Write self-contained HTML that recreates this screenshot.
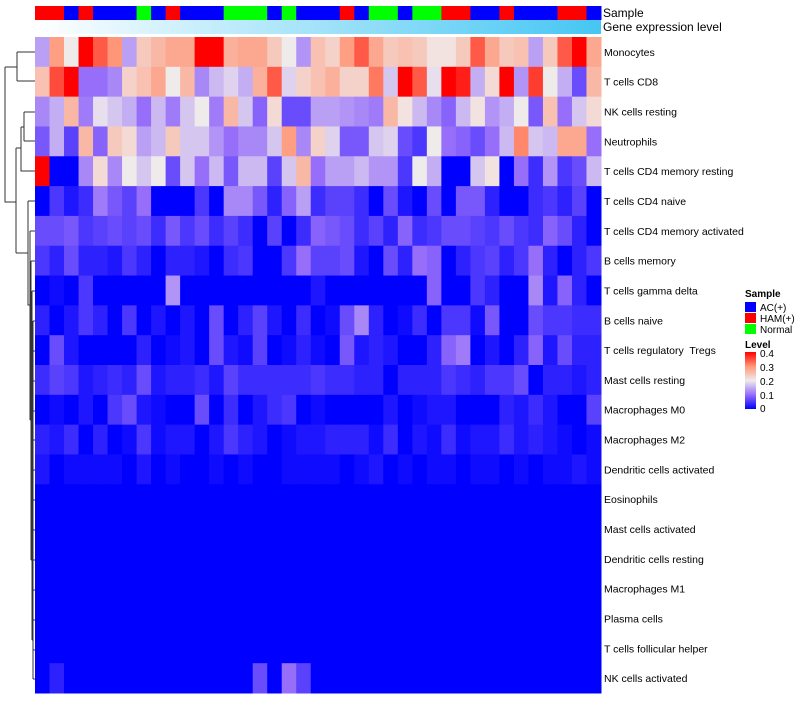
<!DOCTYPE html>
<html><head><meta charset="utf-8"><style>
body{margin:0;background:#fff;width:800px;height:700px;overflow:hidden;font-family:"Liberation Sans",sans-serif}
svg text{font-family:"Liberation Sans",sans-serif}
#rowlabels text{white-space:pre}
</style></head><body>
<svg id="chart" width="800" height="700" xmlns="http://www.w3.org/2000/svg">
<defs><linearGradient id="gexp" x1="0" x2="1"><stop offset="0" stop-color="#ffffff"/><stop offset="1" stop-color="#45c6f4"/></linearGradient>
<linearGradient id="lvl" x1="0" y1="1" x2="0" y2="0"><stop offset="0" stop-color="#0000ff"/><stop offset="0.25" stop-color="#966efa"/><stop offset="0.5" stop-color="#f0ebeb"/><stop offset="0.75" stop-color="#ff9678"/><stop offset="1" stop-color="#ff0000"/></linearGradient></defs>
<g id="anno"></g>
<rect x="35" y="20" width="566" height="14" fill="url(#gexp)"/>
<text x="603" y="17" font-size="12">Sample</text>
<text x="603" y="31" font-size="12">Gene expression level</text>
<g id="cells"></g>
<g id="rowlabels"></g>
<g id="dendro" stroke="#333" stroke-width="1" fill="none">
<path d="M17,52V81M17,52H35M17,81H35M5,67H17M5,67V202H16M16,148V253M24,112V141M24,112H35M24,141H35M21,127H24M21,127V171H35M16,148H21M16,253H28M28,201H35M28,201V305H30M30,231V420M30,231H35M30,420H31M31,261V560M31,261H35M31,560H32M32,291V640M32,291H35M32,640H33M33,321V679M33,321H35M33,351H35M33,381H35M33,411H35M33,440H35M33,470H35M33,500H35M33,530H35M33,560H35M33,590H35M33,620H35M33,650H35M33,679H35"/>
</g>
<g>
<text x="745" y="297" font-size="10" font-weight="bold">Sample</text>
<rect x="745" y="302" width="11" height="10" fill="#0000ff"/>
<text x="760" y="311" font-size="10">AC(+)</text>
<rect x="745" y="313" width="11" height="10" fill="#ff0000"/>
<text x="760" y="322" font-size="10">HAM(+)</text>
<rect x="745" y="324" width="11" height="10" fill="#00ff00"/>
<text x="760" y="333" font-size="10">Normal</text>
<text x="745" y="348" font-size="10" font-weight="bold">Level</text>
<rect x="745" y="352" width="11" height="57" fill="url(#lvl)"/>
<g font-size="10">
<text x="760" y="357">0.4</text>
<text x="760" y="371">0.3</text>
<text x="760" y="385">0.2</text>
<text x="760" y="399">0.1</text>
<text x="760" y="412">0</text>
</g>
</g>
</svg>
<script>
const rowNames=["Monocytes","T cells CD8","NK cells resting","Neutrophils","T cells CD4 memory resting","T cells CD4 naive","T cells CD4 memory activated","B cells memory","T cells gamma delta","B cells naive","T cells regulatory  Tregs","Mast cells resting","Macrophages M0","Macrophages M2","Dendritic cells activated","Eosinophils","Mast cells activated","Dendritic cells resting","Macrophages M1","Plasma cells","T cells follicular helper","NK cells activated"];
const sampleGroups="RRBRBBBGBRBBBGGGBGBBBRBGGBGGRRBBRBBBRRB".split("");
const r0=[0.14,0.29,0.2,0.4,0.34,0.3,0.14,0.24,0.26,0.28,0.28,0.4,0.4,0.27,0.28,0.28,0.24,0.2,0.13,0.25,0.23,0.29,0.34,0.28,0.24,0.25,0.24,0.21,0.21,0.24,0.34,0.28,0.24,0.25,0.14,0.24,0.34,0.4,0.28];
const r1=[0.25,0.35,0.4,0.1,0.1,0.12,0.23,0.25,0.28,0.2,0.26,0.12,0.16,0.18,0.15,0.27,0.34,0.18,0.23,0.25,0.27,0.23,0.23,0.32,0.17,0.4,0.34,0.19,0.4,0.38,0.15,0.22,0.4,0.13,0.36,0.2,0.15,0.07,0.26];
const r2=[0.12,0.15,0.26,0.11,0.19,0.17,0.15,0.1,0.16,0.11,0.17,0.2,0.11,0.26,0.17,0.09,0.22,0.07,0.07,0.14,0.14,0.13,0.12,0.11,0.26,0.21,0.16,0.12,0.09,0.16,0.21,0.13,0.15,0.2,0.08,0.25,0.1,0.17,0.22];
const r3=[0.08,0.15,0.06,0.26,0.09,0.24,0.22,0.14,0.16,0.24,0.17,0.17,0.13,0.1,0.12,0.12,0.17,0.29,0.12,0.23,0.18,0.08,0.08,0.17,0.18,0.07,0.05,0.2,0.1,0.09,0.07,0.1,0.16,0.31,0.17,0.16,0.28,0.28,0.1];
const r4=[0.4,0,0,0.12,0.22,0.12,0.2,0.17,0.2,0.07,0.17,0.1,0.16,0.08,0.16,0.16,0.06,0.17,0.26,0.1,0.14,0.14,0.16,0.13,0.13,0.05,0.2,0.15,0,0,0.17,0.21,0,0.1,0.04,0.13,0.05,0.07,0.16];
const r5=[0,0.05,0.02,0.04,0.11,0.08,0.06,0.1,0,0,0,0.05,0,0.12,0.12,0.08,0.03,0.09,0.14,0.04,0.06,0.06,0.04,0,0.07,0.02,0,0.07,0,0.08,0.08,0.03,0,0,0.04,0.05,0.03,0.06,0];
const r6=[0.07,0.07,0.08,0.05,0.06,0.07,0.06,0.07,0.04,0.08,0.05,0.07,0.04,0.06,0.04,0,0.06,0,0.04,0.09,0.08,0.07,0.04,0.06,0.03,0.09,0.04,0.05,0.07,0.07,0.06,0.05,0.07,0.05,0.04,0.09,0.07,0.03,0];
const r7=[0.05,0.03,0.07,0.03,0.03,0.02,0.05,0.03,0,0.03,0.03,0.02,0,0.04,0.05,0,0,0.05,0.1,0.06,0.06,0.07,0.02,0,0.07,0.03,0.1,0.09,0,0.03,0.05,0.06,0.03,0.05,0.1,0.03,0,0.03,0.05];
const r8=[0,0.01,0,0.05,0,0,0,0,0,0.13,0,0,0,0,0,0,0,0,0,0.02,0,0,0,0,0,0,0,0.09,0,0,0.05,0.03,0,0,0.12,0.02,0.09,0.03,0];
const r9=[0.03,0,0.02,0.05,0.03,0,0.05,0,0.02,0,0.02,0,0.07,0,0.03,0.06,0.02,0,0.04,0,0.01,0.07,0.12,0.03,0,0.01,0.04,0,0.05,0.05,0.01,0.08,0,0,0.07,0.05,0.05,0.04,0.04];
const r10=[0,0.07,0.02,0,0,0,0,0.03,0,0.01,0.02,0,0.07,0.02,0.01,0.06,0,0.01,0.03,0.01,0,0.08,0.02,0.03,0.02,0,0,0.03,0.09,0.11,0,0.02,0,0.03,0.09,0.02,0.07,0.03,0.03];
const r11=[0.04,0.06,0.05,0.02,0.03,0.04,0.03,0.07,0.02,0.03,0.03,0.04,0.02,0.06,0.04,0.04,0.04,0.04,0.04,0.05,0.04,0.04,0.03,0.03,0,0.03,0.03,0.03,0.05,0.04,0.03,0.05,0.05,0.07,0,0.03,0.03,0.02,0.03];
const r12=[0,0.01,0,0.02,0,0.05,0.07,0.02,0.01,0,0,0.07,0,0.04,0,0.02,0.04,0.05,0,0.01,0,0,0,0,0.02,0,0.01,0.02,0.02,0,0,0,0.03,0.02,0.04,0.02,0,0,0.06];
const r13=[0.03,0.02,0.04,0,0.03,0,0.01,0.05,0.01,0.02,0.02,0,0.02,0.05,0.03,0.02,0,0.01,0.02,0.02,0.03,0.03,0.03,0.01,0.04,0,0.02,0.01,0.04,0.01,0.02,0.02,0.04,0.02,0.03,0.02,0.01,0,0.01];
const r14=[0.02,0,0.01,0.01,0.01,0.01,0,0.02,0,0.01,0,0,0.01,0,0.01,0,0,0.01,0.01,0.01,0.01,0,0.01,0.02,0,0.01,0,0.01,0.01,0,0.01,0.01,0,0.01,0,0.01,0.01,0.02,0.01];
const r15=new Array(39).fill(0),r16=new Array(39).fill(0),r17=new Array(39).fill(0),r18=new Array(39).fill(0),r19=new Array(39).fill(0),r20=new Array(39).fill(0);
const r21=[0,0.03,0,0,0,0,0,0,0,0,0,0,0,0,0,0.07,0,0.1,0.06,0,0,0,0,0,0,0,0,0,0,0,0,0,0,0,0,0,0,0,0];
const values=[r0,r1,r2,r3,r4,r5,r6,r7,r8,r9,r10,r11,r12,r13,r14,r15,r16,r17,r18,r19,r20,r21];
const groupColors={R:"#ff0000",B:"#0000ff",G:"#00ff00"};
const X0=35,W=566,Y0=37,H=656,NC=39,NR=rowNames.length;
const cw=W/NC,rh=H/NR;
const xs=i=>X0+i*cw, ys=j=>Y0+j*rh;
const stops=[[0,[0,0,255]],[0.1,[150,110,250]],[0.2,[240,235,235]],[0.3,[255,150,120]],[0.4,[255,0,0]]];
function col(v){v=Math.max(0,Math.min(0.4,v));for(let k=0;k<stops.length-1;k++){const[a,ca]=stops[k],[b,cb]=stops[k+1];if(v<=b){const t=(v-a)/(b-a);return"rgb("+ca.map((c,i)=>Math.round(c+(cb[i]-c)*t)).join(",")+")";}}return"rgb(255,0,0)";}
const NS="http://www.w3.org/2000/svg";
const anno=document.getElementById("anno"),cells=document.getElementById("cells"),labs=document.getElementById("rowlabels");
sampleGroups.forEach((g,i)=>{const r=document.createElementNS(NS,"rect");
r.setAttribute("x",xs(i));r.setAttribute("y",6);r.setAttribute("width",cw+0.5);r.setAttribute("height",14);r.setAttribute("fill",groupColors[g]);


anno.appendChild(r);});
values.forEach((row,j)=>{row.forEach((v,i)=>{const r=document.createElementNS(NS,"rect");
r.setAttribute("x",xs(i));r.setAttribute("y",ys(j));r.setAttribute("width",cw+0.5);r.setAttribute("height",rh+0.5);r.setAttribute("fill",col(v));


cells.appendChild(r);});
const t=document.createElementNS(NS,"text");t.setAttribute("x",604);t.setAttribute("y",ys(j)+rh/2+4);t.setAttribute("font-size","10.5");t.textContent=rowNames[j];


labs.appendChild(t);});
</script>
</body></html>
